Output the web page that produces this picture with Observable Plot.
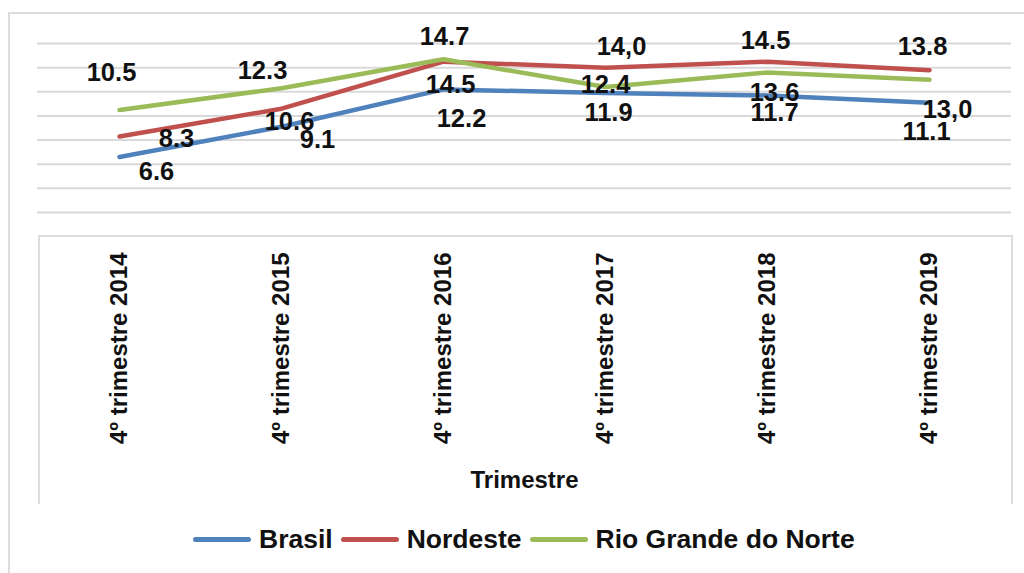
<!DOCTYPE html>
<html>
<head>
<meta charset="utf-8">
<script src="https://cdn.jsdelivr.net/npm/d3@7"></script>
<script src="https://cdn.jsdelivr.net/npm/@observablehq/plot@0.6"></script>
<style>
  html, body { margin: 0; padding: 0; background: #fff; }
  #wrap { position: relative; width: 1024px; height: 573px; overflow: hidden; font-family: "Liberation Sans", Arial, sans-serif; }
  #frame { position: absolute; left: 8px; top: 12px; width: 1030px; height: 600px; border-top: 2px solid #dcdcdc; border-left: 2px solid #dcdcdc; }
  #axisbox { position: absolute; left: 38px; top: 235px; width: 971px; height: 267px; border: 2px solid #dcdcdc; border-bottom: none; }
  #chart { position: absolute; left: 0; top: 0; }
  #legend { position: absolute; left: 193px; top: 524px; display: flex; align-items: center; font-weight: bold; font-size: 26.5px; color: #111; }
  .sw { width: 58px; height: 5px; border-radius: 3px; margin-right: 8px; }
  .lab { margin-right: 8px; }
</style>
</head>
<body>
<div id="wrap">
  <div id="frame"></div>
  <div id="axisbox"></div>
  <div id="chart"></div>
  <div id="legend"></div>
</div>
<script>
// ---- data ----
const quarters = ["4º trimestre 2014", "4º trimestre 2015", "4º trimestre 2016", "4º trimestre 2017", "4º trimestre 2018", "4º trimestre 2019"];
const seriesNames = ["Brasil", "Nordeste", "Rio Grande do Norte"];
const brasil = [6.6, 9.1, 12.2, 11.9, 11.7, 11.1];
const nordeste = [8.3, 10.6, 14.5, 14.0, 14.5, 13.8];
const rioGrandeDoNorte = [10.5, 12.3, 14.7, 12.4, 13.6, 13.0];
const brasilLabels = ["6.6", "9.1", "12.2", "11.9", "11.7", "11.1"];
const nordesteLabels = ["8.3", "10.6", "14.5", "14,0", "14.5", "13.8"];
const rioGrandeDoNorteLabels = ["10.5", "12.3", "14.7", "12.4", "13.6", "13,0"];
const yGrid = [2, 4, 6, 8, 10, 12, 14, 16];
const axisTitle = "Trimestre";

// ---- style / layout (label offsets in pixels, as placed in the original) ----
const colors = ["#4f81bd", "#c0504d", "#9bbb59"];
const labelOffsets = [
  [[37, 15], [36, 13], [18, 29], [3, 20], [7, 17], [-3, 29]],
  [[57, 2], [8, 13], [7, 23], [16, -21], [-2, -21], [-7, -23]],
  [[-8, -37], [-19, -17], [1, -22], [0, -2], [7, 20], [18, 30]]
];

const values = [brasil, nordeste, rioGrandeDoNorte];
const labels = [brasilLabels, nordesteLabels, rioGrandeDoNorteLabels];

const rows = [];
seriesNames.forEach((s, si) => {
  quarters.forEach((q, qi) => {
    rows.push({series: s, quarter: q, value: values[si][qi], label: labels[si][qi], si, qi});
  });
});

const labelMarks = rows.map(d => Plot.text([d], {
  x: "quarter", y: "value", text: "label",
  dx: labelOffsets[d.si][d.qi][0], dy: labelOffsets[d.si][d.qi][1],
  fontSize: 25.5, fontWeight: "bold", fill: "#111"
}));

const chart = Plot.plot({
  width: 1024,
  height: 573,
  marginLeft: 37,
  marginRight: 13,
  marginTop: 19,
  marginBottom: 337,
  style: {fontFamily: "'Liberation Sans', Arial, sans-serif", background: "transparent", overflow: "visible"},
  x: {type: "point", domain: quarters, padding: 0.5},
  y: {domain: [0, 18], axis: null},
  color: {domain: seriesNames, range: colors},
  marks: [
    Plot.ruleY(yGrid, {stroke: "#d9d9d9", strokeWidth: 2}),
    Plot.axisX({
      tickSize: 0, tickPadding: 16, tickRotate: -90,
      fontSize: 24, fontWeight: "bold", color: "#111",
      label: axisTitle, labelAnchor: "center", labelOffset: 251, labelArrow: "none"
    }),
    Plot.line(rows, {x: "quarter", y: "value", z: "series", stroke: "series", strokeWidth: 4.5, strokeLinecap: "round", strokeLinejoin: "round"}),
    ...labelMarks
  ]
});
document.getElementById("chart").appendChild(chart);

// legend
const legend = document.getElementById("legend");
seriesNames.forEach((s, i) => {
  const sw = document.createElement("div");
  sw.className = "sw";
  sw.style.background = colors[i];
  const lab = document.createElement("span");
  lab.className = "lab";
  lab.textContent = s;
  legend.appendChild(sw);
  legend.appendChild(lab);
});
</script>
</body>
</html>
